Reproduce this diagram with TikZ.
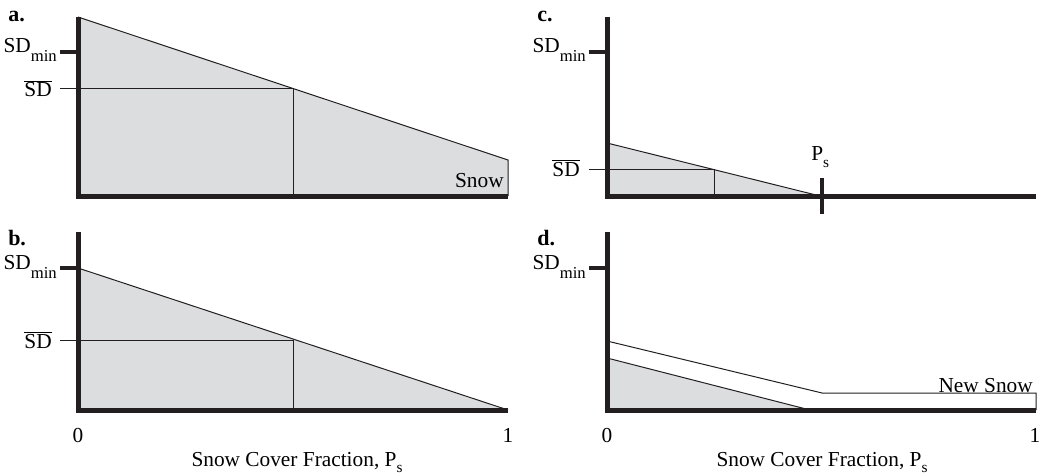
\documentclass[tikz,border=0pt]{standalone}
\usepackage{fontspec}
\setmainfont{Liberation Serif}
\definecolor{snowgray}{RGB}{220,221,223}
\definecolor{axisblack}{RGB}{35,31,32}
\newcommand{\sdmin}{SD\raisebox{-6.75pt}{\fontsize{12.5}{12.5}\selectfont min}}
\newcommand{\sdbar}{$\overline{\hbox{SD}}$}
\newcommand{\psub}{P\raisebox{-5pt}{\fontsize{11.5}{11.5}\selectfont s}}
\begin{document}
\begin{tikzpicture}[x=0.75pt,y=-0.75pt,
  axis/.style={line width=3.75pt,draw=axisblack,line join=miter},
  tickmark/.style={line width=3pt,draw=axisblack},
  thinline/.style={line width=0.75pt,draw=axisblack},
  shade/.style={fill=snowgray},
  lbl/.style={font=\fontsize{16}{19}\selectfont,inner sep=0pt},
  panel/.style={font=\fontsize{16.5}{19}\selectfont\bfseries,inner sep=0pt,anchor=base west}]
\useasboundingbox (0,0) rectangle (1041,474);

% ---------- panel a ----------
\coordinate (aTop) at (78,17);
\coordinate (aOrig) at (78,196);
\coordinate (aEnd) at (508,196);
\coordinate (aRight) at (508,160);
\coordinate (aMinL) at (60,52);
\coordinate (aMinR) at (78,52);
\coordinate (aBarL) at (60,89);
\coordinate (aBarM) at (293,89);
\coordinate (aBarB) at (293,196);
\fill[shade] (aTop) -- (aRight) -- (aEnd) -- (aOrig) -- cycle;
\draw[thinline] (aTop) -- (aRight) -- (aEnd);
\draw[thinline] (aBarL) -- (aBarM) -- (aBarB);
\draw[axis] (aTop) -- (aOrig) -- (aEnd);
\draw[tickmark] (aMinL) -- (aMinR);
\node[panel] (la) at (8,22) {a.};
\node[lbl,anchor=base east] (aSDmin) at (57,53) {\sdmin};
\node[lbl,anchor=base east] (aSDbar) at (52,97) {\sdbar};
\node[lbl,anchor=base east] (aSnow) at (504,187) {Snow};

% ---------- panel b ----------
\coordinate (bTop) at (78,232);
\coordinate (bOrig) at (78,410);
\coordinate (bEnd) at (508,410);
\coordinate (bMinL) at (60,268);
\coordinate (bMinR) at (78,268);
\coordinate (bBarL) at (60,340);
\coordinate (bBarM) at (293,340);
\coordinate (bBarB) at (293,410);
\fill[shade] (bMinR) -- (bEnd) -- (bOrig) -- cycle;
\draw[thinline] (bMinR) -- (bEnd);
\draw[thinline] (bBarL) -- (bBarM) -- (bBarB);
\draw[axis] (bTop) -- (bOrig) -- (bEnd);
\draw[tickmark] (bMinL) -- (bMinR);
\node[panel] (lb) at (8,245) {b.};
\node[lbl,anchor=base east] (bSDmin) at (57,269) {\sdmin};
\node[lbl,anchor=base east] (bSDbar) at (52,348) {\sdbar};
\node[lbl,anchor=base] (bZero) at (78,442) {0};
\node[lbl,anchor=base] (bOne) at (508,442) {1};
\node[lbl,anchor=base] (bXlab) at (297,466) {Snow Cover Fraction, \psub};

% ---------- panel c ----------
\coordinate (cTop) at (607,17);
\coordinate (cOrig) at (607,196);
\coordinate (cEnd) at (1036,196);
\coordinate (cStart) at (607,143);
\coordinate (cZero) at (820,196);
\coordinate (cMinL) at (589,52);
\coordinate (cMinR) at (607,52);
\coordinate (cBarL) at (589,169);
\coordinate (cBarM) at (714,169);
\coordinate (cBarB) at (714,196);
\coordinate (cPsT) at (822,178);
\coordinate (cPsB) at (822,214);
\fill[shade] (cStart) -- (cZero) -- (cOrig) -- cycle;
\draw[thinline] (cStart) -- (cZero);
\draw[thinline] (cBarL) -- (cBarM) -- (cBarB);
\draw[axis] (cTop) -- (cOrig) -- (cEnd);
\draw[tickmark] (cMinL) -- (cMinR);
\draw[tickmark] (cPsT) -- (cPsB);
\node[panel] (lc) at (537,22) {c.};
\node[lbl,anchor=base east] (cSDmin) at (586,53) {\sdmin};
\node[lbl,anchor=base east] (cSDbar) at (580,176) {\sdbar};
\node[lbl,anchor=base west] (cPs) at (811,161) {\psub};

% ---------- panel d ----------
\coordinate (dTop) at (607,232);
\coordinate (dOrig) at (607,410);
\coordinate (dEnd) at (1036,410);
\coordinate (dMinL) at (589,268);
\coordinate (dMinR) at (607,268);
\coordinate (dOld) at (607,358);
\coordinate (dOldZ) at (810,410);
\coordinate (dNew) at (607,341);
\coordinate (dKnee) at (822,393);
\coordinate (dNewR) at (1036,393);
\fill[shade] (dOld) -- (dOldZ) -- (dOrig) -- cycle;
\draw[thinline] (dOld) -- (dOldZ);
\draw[thinline] (dNew) -- (dKnee) -- (dNewR) -- (dEnd);
\draw[axis] (dTop) -- (dOrig) -- (dEnd);
\draw[tickmark] (dMinL) -- (dMinR);
\node[panel] (ld) at (537,245) {d.};
\node[lbl,anchor=base east] (dSDmin) at (586,269) {\sdmin};
\node[lbl,anchor=base east] (dNewSnow) at (1033,392) {New Snow};
\node[lbl,anchor=base] (dZero) at (607,442) {0};
\node[lbl,anchor=base] (dOne) at (1035,442) {1};
\node[lbl,anchor=base] (dXlab) at (822,466) {Snow Cover Fraction, \psub};
\end{tikzpicture}
\end{document}
